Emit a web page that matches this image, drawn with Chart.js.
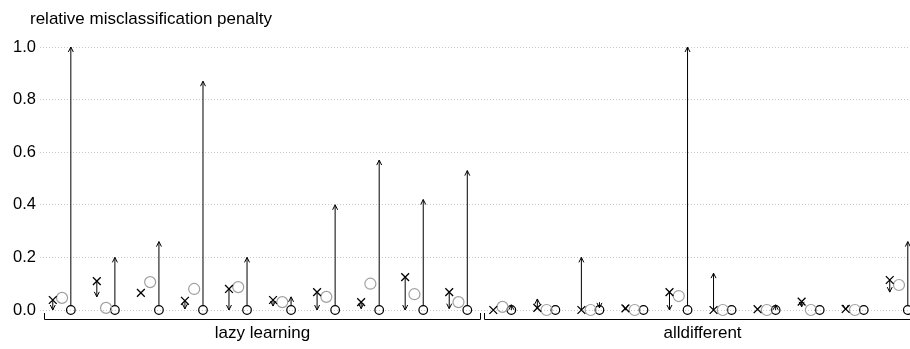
<!DOCTYPE html>
<html>
<head>
<meta charset="utf-8">
<script src="https://cdn.jsdelivr.net/npm/chart.js@4"></script>
<style>
  html, body { margin: 0; padding: 0; background: #fff; }
</style>
</head>
<body>
<canvas id="myChart" width="910" height="349"></canvas>
<script>
const groups = ["lazy learning", "alldifferent"];
const groupSizes = [10, 10];
const yTicks = [0, 0.2, 0.4, 0.6, 0.8, 1.0];

// one entry per instance: lazy learning first, then alldifferent
const crossValues  = [0.038, 0.11, 0.065, 0.035, 0.08, 0.038, 0.068, 0.03, 0.125, 0.068,
                      0.0, 0.008, 0.0, 0.006, 0.068, 0.0, 0.003, 0.032, 0.004, 0.114];
const crossTargets = [0.0, 0.05, null, 0.004, 0.0, 0.015, 0.0, 0.005, 0.0, 0.005,
                      null, 0.042, 0.2, 0.0, 0.0, 0.14, null, 0.012, 0.0, 0.068];
const grayValues   = [0.046, 0.008, 0.106, 0.08, 0.087, 0.03, 0.05, 0.1, 0.06, 0.03,
                      0.012, 0.0, 0.0, 0.0, 0.053, 0.0, 0.0, 0.0, 0.0, 0.095];
const blackValues  = [0, 0, 0, 0, 0, 0, 0, 0, 0, 0,
                      0, 0, 0, 0, 0, 0, 0, 0, 0, 0];
const blackFrom    = [0, 0, 0, 0, 0, 0, 0, 0, 0, 0,
                      0, 0, 0.03, 0, 0, 0, 0, 0, 0, 0];
const blackTargets = [1.0, 0.2, 0.26, 0.87, 0.2, 0.05, 0.4, 0.57, 0.42, 0.53,
                      0.02, null, 0.008, null, 1.0, null, 0.02, null, null, 0.26];

// horizontal slot of each marker inside an instance
const CROSS_OFF = -0.41;
const GRAY_OFF = -0.2;
const BLACK_OFF = 0;
const FONT = "'Liberation Sans', Arial, Helvetica, sans-serif";

function points(values, off) {
    return values.map((v, i) => ({ x: i + off, y: v }));
}

function arrow(c, x, y1, y2) {
    c.beginPath();
    c.moveTo(x, y1);
    c.lineTo(x, y2);
    c.stroke();
    const dir = y2 < y1 ? 1 : -1;
    c.beginPath();
    c.moveTo(x - 2.5, y2 + dir * 5);
    c.lineTo(x, y2);
    c.lineTo(x + 2.5, y2 + dir * 5);
    c.stroke();
}

const extras = {
    id: "extras",
    afterDatasetsDraw(chart) {
        const c = chart.ctx;
        const xs = chart.scales.x;
        const ys = chart.scales.y;
        c.save();
        c.strokeStyle = "#000";
        c.lineWidth = 1;

        crossValues.forEach((v, i) => {
            if (crossTargets[i] === null) return;
            const x = xs.getPixelForValue(i + CROSS_OFF);
            arrow(c, x, ys.getPixelForValue(v), ys.getPixelForValue(crossTargets[i]));
        });
        blackValues.forEach((v, i) => {
            if (blackTargets[i] === null) return;
            const x = xs.getPixelForValue(i + BLACK_OFF);
            let y1 = ys.getPixelForValue(blackFrom[i]);
            const y2 = ys.getPixelForValue(blackTargets[i]);
            if (y1 - y2 > 10) y1 -= 4.3;
            arrow(c, x, y1, y2);
        });

        // group brackets and labels
        c.fillStyle = "#000";
        c.font = "17px " + FONT;
        c.textAlign = "center";
        c.textBaseline = "alphabetic";
        let start = 0;
        groups.forEach((g, gi) => {
            const end = start + groupSizes[gi] - 1;
            const x1 = Math.round(xs.getPixelForValue(start - 0.61)) + 0.5;
            const x2 = Math.round(xs.getPixelForValue(end + 0.28)) + 0.5;
            c.beginPath();
            c.moveTo(x1, 313);
            c.lineTo(x1, 319.5);
            c.lineTo(x2, 319.5);
            c.lineTo(x2, 313);
            c.stroke();
            c.fillText(g, (x1 + x2) / 2, 338);
            start = end + 1;
        });

        c.textAlign = "left";
        c.fillText("relative misclassification penalty", 30, 24);
        c.restore();
    }
};

new Chart(document.querySelector("#myChart"), {
    type: "scatter",
    data: {
        datasets: [
            {
                label: "cross",
                data: points(crossValues, CROSS_OFF),
                pointStyle: "crossRot",
                pointRadius: 5.5,
                borderColor: "#000",
                borderWidth: 1.3,
                clip: false,
            },
            {
                label: "gray",
                data: points(grayValues, GRAY_OFF),
                pointStyle: "circle",
                pointRadius: 5.5,
                borderColor: "#a0a0a0",
                backgroundColor: "rgba(0,0,0,0)",
                borderWidth: 1.2,
                clip: false,
            },
            {
                label: "black",
                data: points(blackValues, BLACK_OFF),
                pointStyle: "circle",
                pointRadius: 4.3,
                borderColor: "#000",
                backgroundColor: "rgba(0,0,0,0)",
                borderWidth: 1.2,
                clip: false,
            },
        ],
    },
    options: {
        responsive: false,
        animation: false,
        devicePixelRatio: 1,
        layout: { autoPadding: false, padding: { top: 47, bottom: 39, left: 0, right: 0 } },
        plugins: {
            legend: { display: false },
            tooltip: { enabled: false },
        },
        scales: {
            x: {
                type: "linear",
                display: false,
                min: -0.7,
                max: 19.05,
            },
            y: {
                min: 0,
                max: 1,
                afterFit: (s) => { s.width = 40; },
                afterBuildTicks: (s) => { s.ticks = yTicks.map((v) => ({ value: v })); },
                grid: { color: "#c8c8c8", drawTicks: false },
                border: { display: false, dash: [1, 2] },
                ticks: {
                    padding: 4,
                    color: "#000",
                    font: { size: 16.5, family: FONT },
                    callback: (v) => v.toFixed(1),
                },
            },
        },
    },
    plugins: [extras],
});
</script>
</body>
</html>
